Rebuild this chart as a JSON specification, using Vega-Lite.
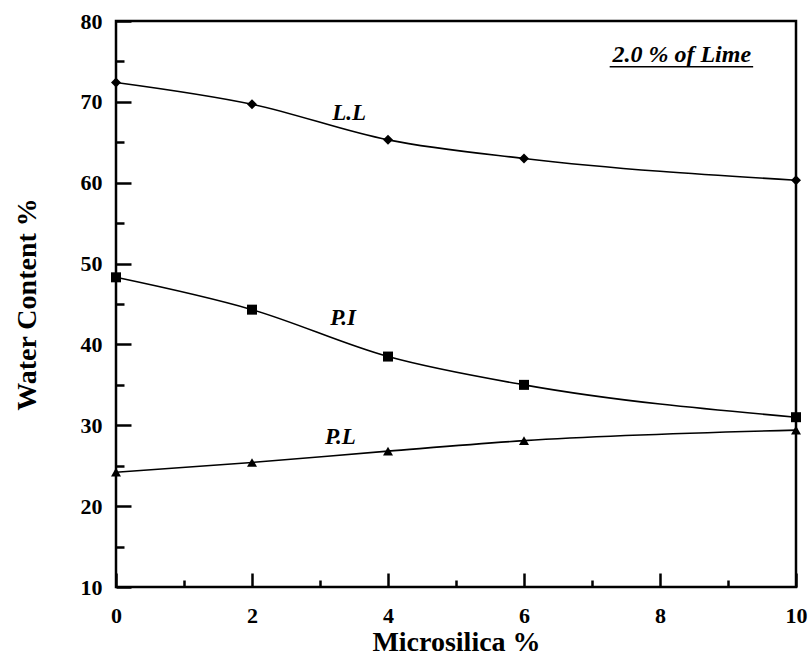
{
  "$schema": "https://vega.github.io/schema/vega-lite/v6.json",
  "width": 680,
  "height": 566,
  "autosize": {"type": "none"},
  "padding": {"left": 116, "top": 21, "right": 15, "bottom": 75},
  "background": "white",
  "config": {
    "view": {"stroke": "black", "strokeWidth": 2.5},
    "font": "Liberation Serif",
    "axis": {"grid": false, "domain": false, "tickColor": "black", "labelColor": "black", "titleColor": "black",
      "labelFont": "Liberation Serif", "titleFont": "Liberation Serif", "labelFontWeight": "bold", "titleFontWeight": "bold",
      "labelFontSize": 22, "titleFontSize": 28, "tickWidth": 2.5}
  },
  "datasets": {
    "pts": [
      {"ms": 0, "wc": 72.4, "s": "L.L"}, {"ms": 2, "wc": 69.7, "s": "L.L"}, {"ms": 4, "wc": 65.3, "s": "L.L"}, {"ms": 6, "wc": 63.0, "s": "L.L"}, {"ms": 10, "wc": 60.3, "s": "L.L"},
      {"ms": 0, "wc": 48.3, "s": "P.I"}, {"ms": 2, "wc": 44.3, "s": "P.I"}, {"ms": 4, "wc": 38.5, "s": "P.I"}, {"ms": 6, "wc": 35.0, "s": "P.I"}, {"ms": 10, "wc": 31.0, "s": "P.I"},
      {"ms": 0, "wc": 24.2, "s": "P.L"}, {"ms": 2, "wc": 25.4, "s": "P.L"}, {"ms": 4, "wc": 26.8, "s": "P.L"}, {"ms": 6, "wc": 28.1, "s": "P.L"}, {"ms": 10, "wc": 29.4, "s": "P.L"}
    ],
    "labels": [
      {"ms": 3.43, "wc": 68.6, "t": "L.L"},
      {"ms": 3.34, "wc": 43.3, "t": "P.I"},
      {"ms": 3.3, "wc": 28.6, "t": "P.L"}
    ],
    "note": [{"ms": 8.32, "wc": 75.8, "t": "2.0 % of Lime"}],
    "uline": [{"ms": 7.26, "ms2": 9.37, "wc": 74.35}]
  },
  "layer": [
    {
      "data": {"name": "pts"},
      "mark": {"type": "point", "opacity": 0},
      "encoding": {
        "x": {"field": "ms", "type": "quantitative", "scale": {"domain": [0, 10], "nice": false},
          "axis": {"values": [1, 3, 5, 7, 9], "labels": false, "title": null, "tickSize": -7, "orient": "bottom"}},
        "y": {"field": "wc", "type": "quantitative", "scale": {"domain": [10, 80], "nice": false},
          "axis": {"values": [15, 25, 35, 45, 55, 65, 75], "labels": false, "title": null, "tickSize": -8, "orient": "left"}}
      }
    },
    {
      "layer": [
        {
          "data": {"name": "pts"},
          "mark": {"type": "line", "interpolate": "monotone", "color": "black", "strokeWidth": 1.6},
          "encoding": {
            "x": {"field": "ms", "type": "quantitative", "scale": {"domain": [0, 10], "nice": false},
              "axis": {"values": [0, 2, 4, 6, 8, 10], "format": "d", "offset": -14, "tickSize": 14, "labelPadding": 18, "labelFlush": false, "title": "Microsilica %", "titlePadding": 2, "orient": "bottom"}},
            "y": {"field": "wc", "type": "quantitative", "scale": {"domain": [10, 80], "nice": false},
              "axis": {"values": [10, 20, 30, 40, 50, 60, 70, 80], "format": "d", "offset": -15, "tickSize": 15, "labelPadding": 14, "labelFlush": false, "title": "Water Content %", "titlePadding": 39, "orient": "left"}},
            "detail": {"field": "s"}
          }
        },
        {
          "data": {"name": "pts"},
          "mark": {"type": "point", "filled": true, "color": "black", "opacity": 1, "size": 100},
          "encoding": {
            "x": {"field": "ms", "type": "quantitative"},
            "y": {"field": "wc", "type": "quantitative"},
            "shape": {"field": "s", "type": "nominal", "scale": {"domain": ["L.L", "P.I", "P.L"], "range": ["diamond", "square", "triangle-up"]}, "legend": null}
          }
        },
        {
          "data": {"name": "labels"},
          "mark": {"type": "text", "font": "Liberation Serif", "fontWeight": "bold", "fontStyle": "italic", "fontSize": 23, "color": "black"},
          "encoding": {
            "x": {"field": "ms", "type": "quantitative"},
            "y": {"field": "wc", "type": "quantitative"},
            "text": {"field": "t"}
          }
        },
        {
          "data": {"name": "note"},
          "mark": {"type": "text", "font": "Liberation Serif", "fontWeight": "bold", "fontStyle": "italic", "fontSize": 24, "color": "black"},
          "encoding": {
            "x": {"field": "ms", "type": "quantitative"},
            "y": {"field": "wc", "type": "quantitative"},
            "text": {"field": "t"}
          }
        },
        {
          "data": {"name": "uline"},
          "mark": {"type": "rule", "color": "black", "strokeWidth": 1.5},
          "encoding": {
            "x": {"field": "ms", "type": "quantitative"},
            "x2": {"field": "ms2"},
            "y": {"field": "wc", "type": "quantitative"}
          }
        }
      ]
    }
  ],
  "resolve": {"axis": {"x": "independent", "y": "independent"}}
}
